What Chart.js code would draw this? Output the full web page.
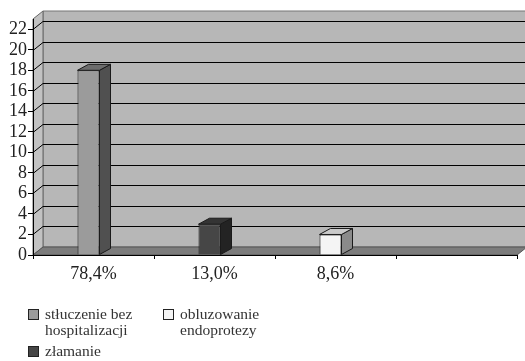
<!DOCTYPE html>
<html>
<head>
<meta charset="utf-8">
<script src="https://cdn.jsdelivr.net/npm/chart.js@4"></script>
<style>
  body { margin: 0; background: #fff; }
  #wrap { position: relative; width: 525px; height: 361px; }
  .legend-item { position: absolute; width: 110px; font: 15.5px "Liberation Serif", serif; color: #333; line-height: 16px; }
  .legend-item span.box { position: absolute; left: -17px; top: 3px; width: 9px; height: 9px; border: 1px solid #222; }
</style>
</head>
<body>
<div id="wrap">
  <canvas id="chart" width="525" height="361"></canvas>
</div>

<script>
const categories = ['78,4%', '13,0%', '8,6%', ''];
const counts = [18, 3, 2, null];
const seriesNames = ['stłuczenie bez hospitalizacji', 'złamanie', 'obluzowanie endoprotezy'];

// face colours per bar: front, right side, top
const frontColors = ['#9b9b9b', '#464646', '#f4f4f4'];
const sideColors = ['#505050', '#232323', '#8a8a8a'];
const topColors = ['#6c6c6c', '#343434', '#c9c9c9'];

// 3D offsets: walls and bar depth
const WALL = { dx: 10, dy: -8 };
const BAR = { dx: 11, dy: -6 };
const SHIFT = -5;

function poly(ctx, pts, fill, stroke) {
    ctx.beginPath();
    ctx.moveTo(pts[0][0], pts[0][1]);
    for (let i = 1; i < pts.length; i++) ctx.lineTo(pts[i][0], pts[i][1]);
    ctx.closePath();
    if (fill) { ctx.fillStyle = fill; ctx.fill(); }
    if (stroke) { ctx.strokeStyle = stroke; ctx.lineWidth = 1; ctx.stroke(); }
}

const box3d = {
    id: 'box3d',
    beforeDraw(chart) {
        const ctx = chart.ctx;
        const { left, right, top, bottom } = chart.chartArea;
        const y = chart.scales.y;
        const W = chart.width;
        ctx.save();
        // back wall
        poly(ctx, [[left + WALL.dx, top + WALL.dy], [W + 2, top + WALL.dy], [W + 2, bottom + WALL.dy], [left + WALL.dx, bottom + WALL.dy]], '#b7b7b7', '#777');
        // left wall
        poly(ctx, [[left, bottom], [left + WALL.dx, bottom + WALL.dy], [left + WALL.dx, top + WALL.dy], [left, top]], '#c2c2c2', '#666');
        // floor
        poly(ctx, [[left, bottom], [left + WALL.dx, bottom + WALL.dy], [right + WALL.dx, bottom + WALL.dy], [right, bottom]], '#7c7c7c', '#555');
        // gridlines across left wall and back wall
        ctx.strokeStyle = '#000';
        ctx.lineWidth = 1;
        y.ticks.forEach(t => {
            if (t.value === 0) return;
            const py = Math.round(y.getPixelForValue(t.value)) + 0.5;
            ctx.beginPath();
            ctx.moveTo(left, py);
            ctx.lineTo(left + WALL.dx, py + WALL.dy);
            ctx.lineTo(W, py + WALL.dy);
            ctx.stroke();
        });
        ctx.restore();
    },
    beforeDatasetsDraw(chart) {
        chart.ctx.save();
        chart.ctx.translate(SHIFT, 0);
    },
    afterDatasetsDraw(chart) {
        const ctx = chart.ctx;
        const meta = chart.getDatasetMeta(0);
        meta.data.forEach((bar, i) => {
            if (counts[i] == null) return;
            const { x, y, base, width } = bar.getProps(['x', 'y', 'base', 'width'], true);
            const l = x - width / 2, r = x + width / 2;
            poly(ctx, [[r, y], [r + BAR.dx, y + BAR.dy], [r + BAR.dx, base + BAR.dy], [r, base]], sideColors[i], '#1a1a1a');
            poly(ctx, [[l, y], [l + BAR.dx, y + BAR.dy], [r + BAR.dx, y + BAR.dy], [r, y]], topColors[i], '#1a1a1a');
        });
        ctx.restore();
    }
};

new Chart(document.getElementById('chart'), {
    type: 'bar',
    data: {
        labels: categories,
        datasets: [{
            data: counts,
            backgroundColor: frontColors,
            borderColor: '#1a1a1a',
            borderWidth: 1,
            barPercentage: 0.182,
            categoryPercentage: 1
        }]
    },
    options: {
        responsive: false,
        animation: false,
        layout: { padding: { top: 19, right: 8, left: 0, bottom: 0 } },
        plugins: { legend: { display: false }, tooltip: { enabled: false } },
        scales: {
            x: {
                afterFit: s => { s.height = 106; },
                grid: { drawOnChartArea: false, tickLength: 4, color: '#000', offset: true },
                border: { display: true, color: '#000' },
                ticks: { font: { family: 'Liberation Serif', size: 18 }, color: '#222', padding: 4 }
            },
            y: {
                min: 0,
                max: 23,
                afterFit: s => { s.width = 33; },
                grid: { drawOnChartArea: false, tickLength: 5, color: '#000' },
                border: { display: true, color: '#000' },
                ticks: { stepSize: 2, autoSkip: false, includeBounds: false, font: { family: 'Liberation Serif', size: 18 }, color: '#222', padding: 1 }
            }
        }
    },
    plugins: [box3d]
});

// legend laid out column-wise in two rows
const legendSpots = [[45, 306], [45, 343], [180, 306]];
const wrap = document.getElementById('wrap');
seriesNames.forEach((name, i) => {
    const item = document.createElement('div');
    item.className = 'legend-item';
    item.style.left = legendSpots[i][0] + 'px';
    item.style.top = legendSpots[i][1] + 'px';
    const box = document.createElement('span');
    box.className = 'box';
    box.style.background = frontColors[i];
    item.appendChild(box);
    item.appendChild(document.createTextNode(name));
    wrap.appendChild(item);
});
</script>
</body>
</html>
